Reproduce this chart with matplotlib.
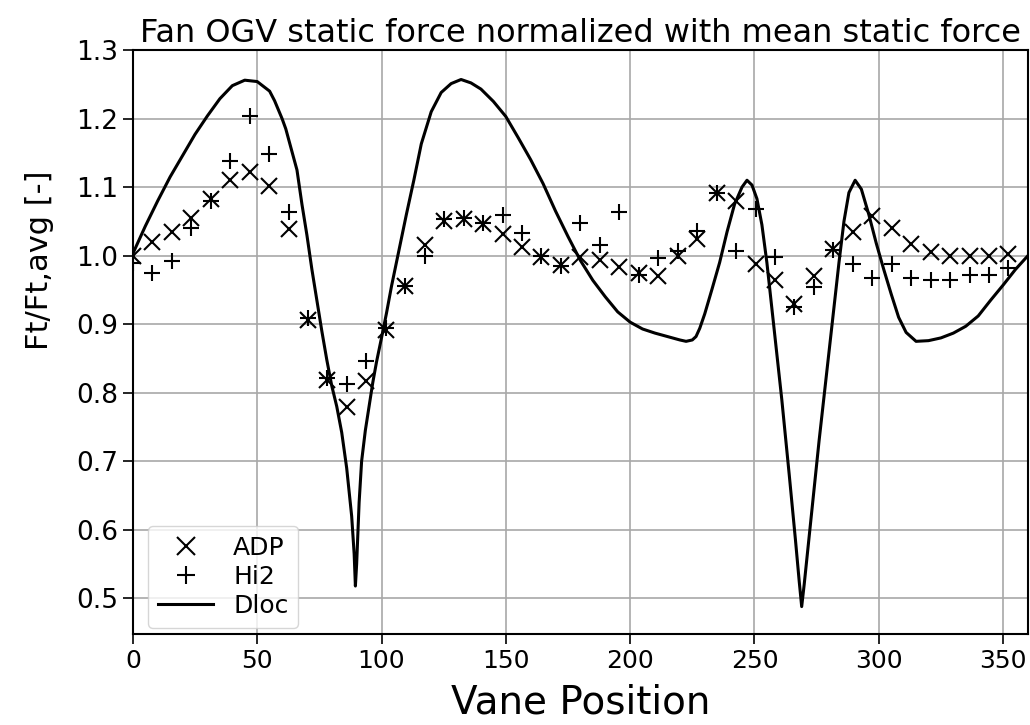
import numpy as np
import matplotlib
matplotlib.use("Agg")
import matplotlib.pyplot as plt

# vane positions (46 vanes)
n_vanes = 46
vane_pos = np.arange(n_vanes) * 360.0 / n_vanes

adp = [1.000, 1.020, 1.035, 1.055, 1.082, 1.110, 1.122, 1.101, 1.039, 0.906,
       0.819, 0.779, 0.817, 0.891, 0.955, 1.015, 1.050, 1.053, 1.046, 1.031,
       1.012, 0.998, 0.987, 0.998, 0.994, 0.983, 0.974, 0.970, 1.000, 1.025,
       1.091, 1.080, 0.988, 0.964, 0.930, 0.971, 1.010, 1.034, 1.058, 1.041,
       1.017, 1.006, 1.000, 1.000, 1.000, 1.003]

hi2 = [0.990, 0.975, 0.992, 1.041, 1.080, 1.138, 1.204, 1.149, 1.064, 0.909,
       0.822, 0.813, 0.846, 0.894, 0.956, 1.000, 1.053, 1.055, 1.048, 1.059,
       1.033, 1.000, 0.985, 1.047, 1.015, 1.063, 0.972, 0.997, 1.007, 1.036,
       1.092, 1.007, 1.068, 0.998, 0.925, 0.954, 1.008, 0.988, 0.967, 0.988,
       0.968, 0.964, 0.964, 0.972, 0.972, 0.982]

dloc_x = [0, 5, 10, 15, 20, 25, 30, 35, 40, 45, 50, 55, 57, 60, 61.5, 63, 66,
          68, 70, 72, 74, 76, 78, 80, 82, 84, 86, 88, 89, 89.5, 90, 91, 92,
          93.5, 95, 96.5, 98, 100, 102, 104, 106, 108, 110, 113, 116,
          120, 124, 128, 132, 136, 140, 145, 150, 155, 160, 165, 170, 175, 180,
          185, 190, 195, 200, 205, 210, 215, 220, 222.5, 225, 226.5, 228, 230,
          233, 236, 239, 242, 245, 247, 249, 251, 253, 255, 258, 261, 264,
          266.5, 268, 269, 270, 272, 274, 276, 278, 280, 282, 284, 286, 288,
          290.5, 293, 296, 299, 302, 305, 308, 311, 315, 320, 325, 330, 335,
          340, 345, 350, 355, 360]
dloc_y = [1.003, 1.043, 1.080, 1.115, 1.146, 1.177, 1.204, 1.229, 1.248, 1.256,
          1.254, 1.240, 1.226, 1.200, 1.185, 1.165, 1.125, 1.075, 1.030, 0.980,
          0.935, 0.890, 0.848, 0.810, 0.780, 0.742, 0.690, 0.620, 0.565, 0.518,
          0.550, 0.640, 0.700, 0.745, 0.780, 0.815, 0.845, 0.880, 0.916, 0.955,
          0.990, 1.025, 1.060, 1.110, 1.163, 1.210, 1.238, 1.251, 1.257, 1.252,
          1.243, 1.225, 1.203, 1.172, 1.140, 1.105, 1.065, 1.028, 0.993, 0.964,
          0.940, 0.918, 0.903, 0.893, 0.887, 0.882, 0.877, 0.875, 0.877, 0.882,
          0.894, 0.915, 0.952, 0.990, 1.035, 1.075, 1.100, 1.110, 1.103, 1.083,
          1.045, 0.990, 0.890, 0.790, 0.680, 0.585, 0.525, 0.488, 0.520, 0.590,
          0.660, 0.730, 0.795, 0.860, 0.925, 0.990, 1.050, 1.092, 1.110, 1.097,
          1.060, 1.018, 0.980, 0.944, 0.910, 0.888, 0.875, 0.876, 0.880, 0.887,
          0.897, 0.912, 0.935, 0.957, 0.980, 1.000]

fig = plt.figure(figsize=(10.3, 7.25), dpi=100)
ax = fig.add_axes([0.129, 0.1255, 0.869, 0.8055])

ax.plot(vane_pos, adp, 'kx', markersize=12, markeredgewidth=1.5, label='ADP')
ax.plot(vane_pos, hi2, 'k+', markersize=12, markeredgewidth=1.5, label='Hi2')
ax.plot(dloc_x, dloc_y, 'k-', linewidth=2.2, label='Dloc')

ax.set_xlim(0, 360)
ax.set_ylim(0.448, 1.3)
ax.set_yticks(np.arange(0.5, 1.31, 0.1))
ax.grid(True, color='#a8a8a8', linewidth=1.2)
ax.tick_params(length=7, width=1.2)
ax.tick_params(axis='x', labelsize=18)
ax.tick_params(axis='y', labelsize=19)
for s in ax.spines.values():
    s.set_linewidth(1.5)

ax.set_title('Fan OGV static force normalized with mean static force', fontsize=23)
ax.set_xlabel('Vane Position', fontsize=28, labelpad=8)
ax.set_ylabel('Ft/Ft,avg [-]', fontsize=22)
ax.yaxis.set_label_coords(-0.088, 0.64)
ax.legend(loc='lower left', bbox_to_anchor=(0.01, 0.0), fontsize=18,
          handlelength=2.2, markerscale=1.1, labelspacing=0.2, borderaxespad=0.25)

fig.savefig('out.png', dpi=100)
